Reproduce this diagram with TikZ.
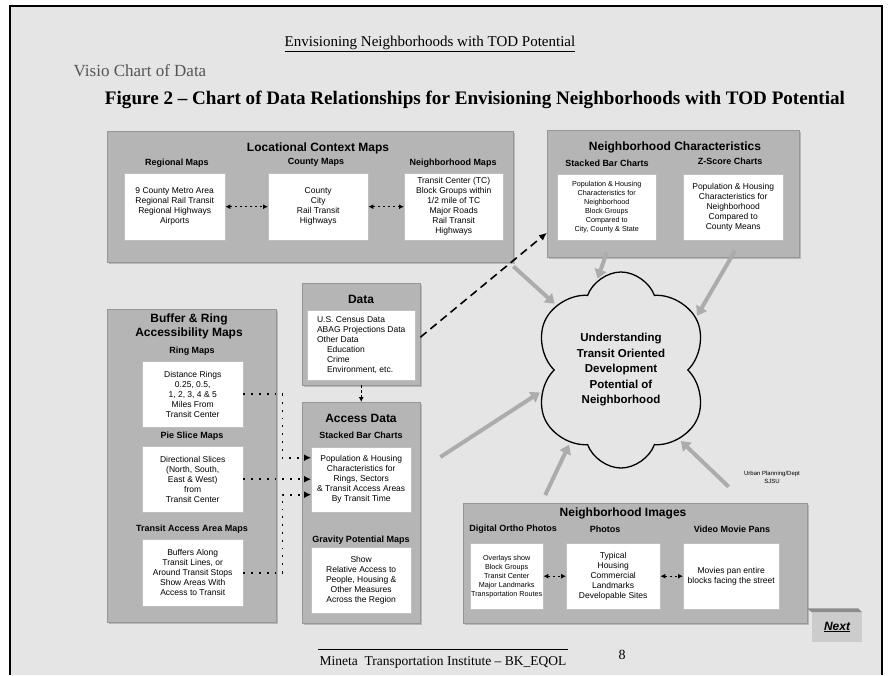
\documentclass[tikz,border=0pt]{standalone}
\usepackage{fontspec}
\setmainfont{Liberation Serif}
\setsansfont{Liberation Sans}
\usetikzlibrary{arrows.meta,positioning,calc,shapes.symbols,shadows}
\definecolor{pagegrey}{RGB}{229,229,229}
\definecolor{boxgrey}{RGB}{181,181,181}
\definecolor{edgegrey}{RGB}{150,150,150}
\definecolor{flowgrey}{RGB}{172,172,172}
\definecolor{btngrey}{RGB}{204,204,204}
\definecolor{visiogrey}{RGB}{85,85,85}
\newcommand{\fsz}[2]{\fontsize{#1}{#2}\selectfont}
\tikzset{
  grpbox/.style={draw=edgegrey,fill=boxgrey,anchor=north west,inner sep=0pt,drop shadow={shadow xshift=1.5pt,shadow yshift=-1.5pt,fill=black!45,opacity=0.5}},
  whtbox/.style={draw=black!25,fill=white,anchor=north west,inner sep=1pt,align=center,font=\sffamily\fsz{8.5}{10}},
  smallbox/.style={whtbox,font=\sffamily\fsz{7.2}{9}},
  grptitle/.style={font=\sffamily\bfseries\fsz{12}{14},align=center,inner sep=0pt},
  subhd/.style={font=\sffamily\bfseries\fsz{9}{10},inner sep=0pt},
  pairflow/.style={{Latex[length=5pt,width=5pt]}-{Latex[length=5pt,width=5pt]},line width=1.1pt,dash pattern=on 2.5pt off 2.5pt},
  dotflow/.style={-{Latex[length=7pt,width=7pt]},line width=1.8pt,dash pattern=on 1.8pt off 6pt},
  dashflow/.style={-{Latex[length=8pt,width=7pt]},line width=1.6pt,dash pattern=on 8pt off 5pt},
  greyflow/.style={-{Triangle[length=9pt,width=12pt]},line width=4pt,draw=flowgrey,shorten >=2pt}
}

\begin{document}
\begin{tikzpicture}[x=1pt,y=-1pt]
  \useasboundingbox (0,0) rectangle (890,675);
  \fill[white] (0,0) rectangle (890,675);
  \fill[pagegrey] (10,6) rectangle (882,675);
  \draw[line width=1.5pt] (10,675) -- (10,6) -- (882,6) -- (882,675);

  % page heading
  \node[font=\fsz{15}{17}] (envhd) at (430,44) {\underline{Envisioning Neighborhoods with TOD Potential}};
  \node[font=\fsz{17}{19},text=visiogrey] (visio) at (140,71) {Visio Chart of Data};
  \node[font=\bfseries\fsz{19.1}{21}] (figttl) at (475,100) {Figure 2 – Chart of Data Relationships for Envisioning Neighborhoods with TOD Potential};

  % locational context
  \node[grpbox,minimum width=406,minimum height=131] (loc) at (107,131) {};
  \node[grptitle] (locttl) at (318,148) {Locational Context Maps};
  \node[subhd] (reghd) at (177,163) {Regional Maps};
  \node[subhd] (cnthd) at (316,162) {County Maps};
  \node[subhd] (nbrhd) at (453,163) {Neighborhood Maps};
  \node[whtbox,minimum width=101,minimum height=67] (reg) at (124,173) {9 County Metro Area\\Regional Rail Transit\\Regional Highways\\Airports};
  \node[whtbox,minimum width=100,minimum height=67] (cnty) at (268,173) {County\\City\\Rail Transit\\Highways};
  \node[whtbox,minimum width=99,minimum height=67] (nbr) at (404,173) {Transit Center (TC)\\Block Groups within\\1/2 mile of TC\\Major Roads\\Rail Transit\\Highways};
  \draw[pairflow] (reg) -- (cnty);
  \draw[pairflow] (cnty) -- (nbr);

  % neighborhood characteristics
  \node[grpbox,minimum width=252,minimum height=127] (nchar) at (547,130) {};
  \node[grptitle] (ncharttl) at (675,147) {Neighborhood Characteristics};
  \node[subhd] (stkhd) at (607,163) {Stacked Bar Charts};
  \node[subhd] (zschd) at (730,161) {Z-Score Charts};
  \node[smallbox,minimum width=99,minimum height=66] (nstk) at (557,174) {Population \& Housing\\Characteristics for\\Neighborhood\\Block Groups\\Compared to\\City, County \& State};
  \node[whtbox,minimum width=100,minimum height=66] (zsc) at (683,174) {Population \& Housing\\Characteristics for\\Neighborhood\\Compared to\\County Means};

  % buffer and ring maps
  \node[grpbox,minimum width=169,minimum height=313] (buf) at (107,309) {};
  \node[grptitle] (bufttl) at (189,326) {Buffer \& Ring\\Accessibility Maps};
  \node[subhd] (ringhd) at (192,351) {Ring Maps};
  \node[subhd] (piehd) at (192,436) {Pie Slice Maps};
  \node[subhd] (transhd) at (192,529) {Transit Access Area Maps};
  \node[whtbox,minimum width=101,minimum height=66] (ring) at (142,361) {Distance Rings\\0.25, 0.5,\\1, 2, 3, 4 \& 5\\Miles From\\Transit Center};
  \node[whtbox,minimum width=101,minimum height=66] (pie) at (142,446) {Directional Slices\\(North, South,\\East \& West)\\from\\Transit Center};
  \node[whtbox,minimum width=101,minimum height=67] (trans) at (142,539) {Buffers Along\\Transit Lines, or\\Around Transit Stops\\Show Areas With\\Access to Transit};

  % data
  \node[grpbox,minimum width=118,minimum height=102] (data) at (302,283) {};
  \node[grptitle] (datattl) at (361,299) {Data};
  \node[whtbox,align=left,minimum width=108,minimum height=70] (datbox) at (307,310) {U.S. Census Data\\ABAG Projections Data\\Other Data\\\hspace*{10pt}Education\\\hspace*{10pt}Crime\\\hspace*{10pt}Environment, etc.};

  % access data
  \node[grpbox,minimum width=118,minimum height=221] (acc) at (302,402) {};
  \node[grptitle] (accttl) at (361,418) {Access Data};
  \node[subhd] (acchd) at (361,435) {Stacked Bar Charts};
  \node[subhd] (gravhd) at (361,540) {Gravity Potential Maps};
  \node[whtbox,minimum width=100,minimum height=65] (accstk) at (311,447) {Population \& Housing\\Characteristics for\\Rings, Sectors\\\& Transit Access Areas\\By Transit Time};
  \node[whtbox,minimum width=100,minimum height=66] (grav) at (311,547) {Show\\Relative Access to\\People, Housing \&\\Other Measures\\Across the Region};
  \draw[pairflow,-{Latex[length=5pt,width=5pt]}] (data) -- (acc);
  \draw[dotflow] (ring.east) -- ++(39,0) |- ([yshift=22pt]accstk.west);
  \draw[dotflow] (pie.east) -- (accstk.west |- pie.east);
  \draw[dotflow] (trans.east) -- ++(39,0) |- ([yshift=-15pt]accstk.west);
  \draw[dashflow] ([yshift=-3pt]data.east) -- ([yshift=-39pt]nchar.west);

  % neighborhood images
  \node[grpbox,minimum width=344,minimum height=120] (nimg) at (463,503) {};
  \node[grptitle] (nimgttl) at (623,513) {Neighborhood Images};
  \node[subhd] (orthohd) at (513,529) {Digital Ortho Photos};
  \node[subhd] (photohd) at (605,529) {Photos};
  \node[subhd] (videohd) at (732,529) {Video Movie Pans};
  \node[smallbox,minimum width=71,minimum height=66] (ortho) at (470,543) {Overlays show\\Block Groups\\Transit Center\\Major Landmarks\\Transportation Routes};
  \node[whtbox,minimum width=94,minimum height=66] (photo) at (566,543) {Typical\\Housing\\Commercial\\Landmarks\\Developable Sites};
  \node[whtbox,minimum width=96,minimum height=66] (video) at (683,543) {Movies pan entire\\blocks facing the street};
  \draw[pairflow] (ortho) -- (photo);
  \draw[pairflow] (photo) -- (video);

  % goal
  \node[cloud,draw,line width=1.3pt,cloud puffs=6,cloud puff arc=140,aspect=0.9,shape border rotate=15,minimum width=176,minimum height=196,inner sep=0pt,align=center,font=\sffamily\bfseries\fsz{11.5}{15.5}] (cloud) at (621,370) {Understanding\\Transit Oriented\\Development\\Potential of\\Neighborhood};
  \node[font=\sffamily\fsz{6}{8},align=center] (urb) at (772,477) {Urban Planning/Dept\\SJSU};

  \draw[greyflow] ([yshift=-4pt]loc.south east) -- (cloud.135);
  \draw[greyflow] ([yshift=-12pt]nstk.south) -- (cloud.105);
  \draw[greyflow] ([xshift=2pt,yshift=-10pt]zsc.south) -- (cloud.35);
  \draw[greyflow] ([xshift=20pt,yshift=-55pt]acc.north east) -- (cloud.195);
  \draw[greyflow] ([xshift=-90pt,yshift=8pt]nimg.north) -- (cloud.235);
  \draw[greyflow] ([xshift=-12pt]urb.south west) -- (cloud.310);

  % next button and footer
  \node[fill=btngrey,minimum width=50,minimum height=29,inner sep=0pt,font=\sffamily\bfseries\itshape\fsz{12}{14}] (next) at (837,627) {\underline{Next}};
  \fill[black!45] (next.north west) -- ++(-5,-4) -- ([xshift=-4pt,yshift=4pt]next.north east) -- (next.north east) -- cycle;
  \node[font=\fsz{13.5}{14},align=center] (foot) at (443,659) {\rule{250pt}{0.5pt}\\[2pt]Mineta\ \ Transportation Institute – BK\_EQOL};
  \node[font=\fsz{14}{16}] (pageno) at (622,655) {8};
\end{tikzpicture}
\end{document}
